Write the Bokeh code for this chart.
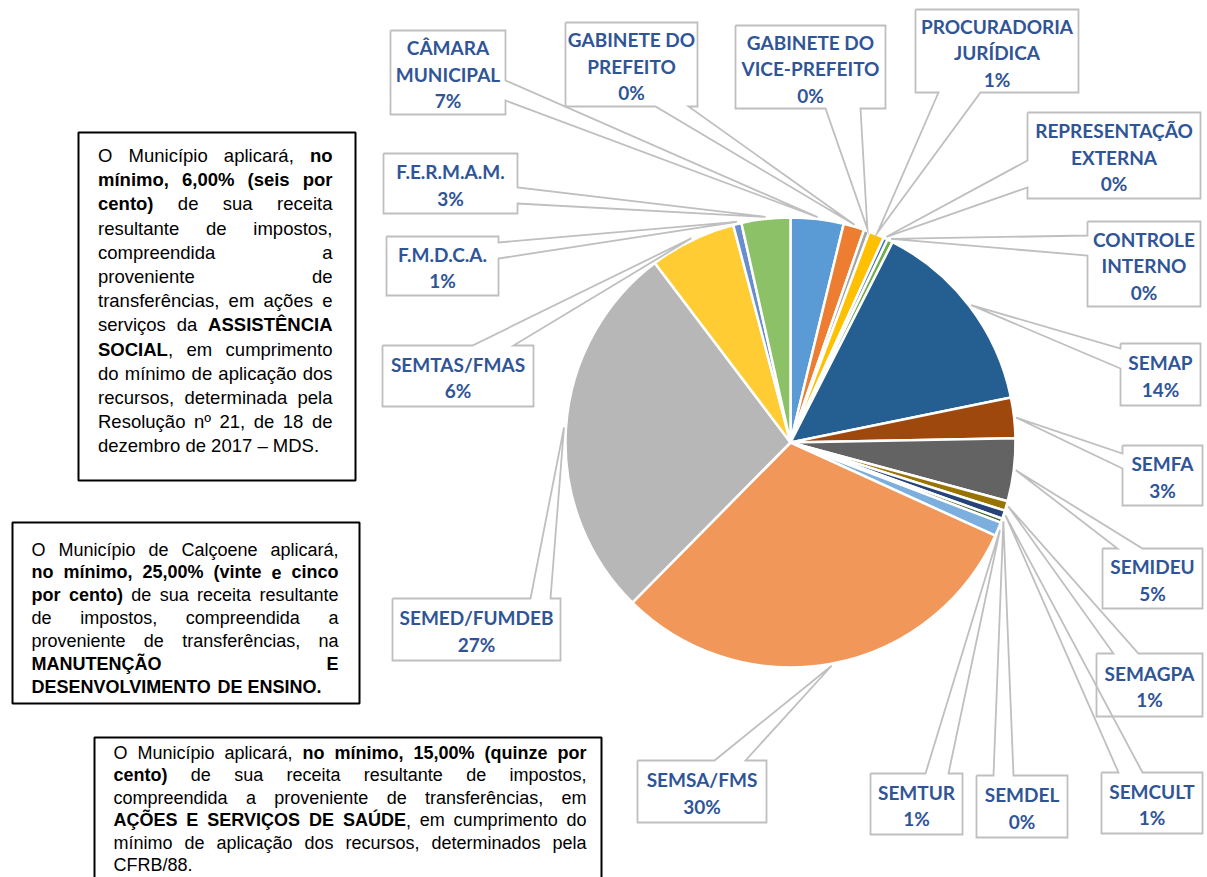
import math
import unicodedata
from bokeh.plotting import figure
from bokeh.models import Range1d, ColumnDataSource
from bokeh.embed import file_html
from bokeh.resources import INLINE
from bokeh.core.properties import value

# ---------------- data ----------------
categories = ["CÂMARA\nMUNICIPAL", "GABINETE DO\nPREFEITO", "GABINETE DO\nVICE-PREFEITO",
              "PROCURADORIA\nJURÍDICA", "REPRESENTAÇÃO\nEXTERNA", "CONTROLE\nINTERNO",
              "SEMAP", "SEMFA", "SEMIDEU", "SEMAGPA", "SEMCULT", "SEMDEL", "SEMTUR",
              "SEMSA/FMS", "SEMED/FUMDEB", "SEMTAS/FMAS", "F.M.D.C.A.", "F.E.R.M.A.M."]
shares = [3.8, 1.5, 0.4, 1.1, 0.3, 0.4, 14.3, 2.9, 4.5, 0.7, 0.6, 0.3, 1.0,
          30.6, 27.3, 6.2, 0.6, 3.5]
pct_labels = ["7%", "0%", "0%", "1%", "0%", "0%", "14%", "3%", "5%", "1%", "1%", "0%", "1%",
              "30%", "27%", "6%", "1%", "3%"]

box1_lines = [
    "O Município aplicará, **no**",
    "**mínimo, 6,00% (seis por**",
    "**cento)** de sua receita",
    "resultante de impostos,",
    "compreendida a",
    "proveniente de",
    "transferências, em ações e",
    "serviços da **ASSISTÊNCIA**",
    "**SOCIAL**, em cumprimento",
    "do mínimo de aplicação dos",
    "recursos, determinada pela",
    "Resolução nº 21, de 18 de",
    "dezembro de 2017 – MDS.",
]
box2_lines = [
    "O Município de Calçoene aplicará,",
    "**no mínimo, 25,00% (vinte e cinco**",
    "**por cento)** de sua receita resultante",
    "de impostos, compreendida a",
    "proveniente de transferências, na",
    "**MANUTENÇÃO E**",
    "**DESENVOLVIMENTO DE ENSINO.**",
]
box3_lines = [
    "O Município aplicará, **no mínimo, 15,00% (quinze por**",
    "**cento)** de sua receita resultante de impostos,",
    "compreendida a proveniente de transferências, em",
    "**AÇÕES E SERVIÇOS DE SAÚDE**, em cumprimento do",
    "mínimo de aplicação dos recursos, determinados pela",
    "CFRB/88.",
]

# ---------------- styles / layout ----------------
slice_colors = ["#5B9BD5", "#ED7D31", "#A5A5A5", "#FFC000", "#4472C4", "#70AD47",
                "#255E91", "#9E480E", "#636363", "#997300", "#264478", "#43682B",
                "#7CAFDD", "#F1975A", "#B7B7B7", "#FFCD33", "#698ED0", "#8CC168"]

# label callout boxes: x0, y0, x1, y1 (picture px), pointer side, pointer base a, b
label_boxes = [
    (390, 30, 505, 114, "R", 80, 100),
    (565, 22, 697, 106, "B", 655, 688),
    (735, 25, 885, 108, "B", 825, 860),
    (915, 9, 1078, 92, "B", 938, 980),
    (1027, 112, 1200, 198, "L", 160, 187),
    (1087, 221, 1200, 306, "L", 235, 255),
    (1120, 343, 1200, 405, "L", 348, 368),
    (1122, 445, 1202, 505, "L", 453, 468),
    (1102, 548, 1202, 608, "T", 1117, 1142),
    (1096, 653, 1202, 716, "T", 1113, 1138),
    (1101, 772, 1202, 833, "T", 1118, 1142),
    (976, 775, 1067, 837, "T", 993, 1013),
    (870, 773, 962, 834, "T", 925, 948),
    (637, 760, 766, 822, "T", 714, 745),
    (392, 598, 560, 660, "T", 530, 550),
    (382, 345, 533, 406, "T", 472, 513),
    (386, 236, 498, 295, "R", 242, 258),
    (383, 153, 517, 213, "R", 187, 203),
]

CX, CY, R = 790, 442, 225


def Y(ry):
    return -ry


p = figure(width=1207, height=877, x_range=Range1d(0, 1207), y_range=Range1d(-877, 0),
           output_backend="svg", toolbar_location=None, min_border=0,
           x_axis_location=None, y_axis_location=None)
p.grid.grid_line_color = None
p.outline_line_color = None
p.background_fill_color = "white"
p.border_fill_color = "white"

# ---------------- pie ----------------
total = sum(shares)
cum = [0.0]
for s in shares:
    cum.append(cum[-1] + s)
theta0 = [c / total * 2 * math.pi for c in cum[:-1]]
theta1 = [c / total * 2 * math.pi for c in cum[1:]]
pie_src = ColumnDataSource(dict(
    start=[math.pi / 2 - t for t in theta1],
    end=[math.pi / 2 - t for t in theta0],
    color=slice_colors,
))
p.wedge(x=CX, y=Y(CY), radius=R, start_angle="start", end_angle="end",
        fill_color="color", line_color="white", line_width=2.5, source=pie_src)

# ---------------- callouts ----------------
xs, ys = [], []
tx, ty, tt = [], [], []
for i, (x0, y0, x1, y1, side, a, b) in enumerate(label_boxes):
    mid = (theta0[i] + theta1[i]) / 2
    tipx = CX + (R + 2) * math.sin(mid)
    tipy = CY - (R + 2) * math.cos(mid)
    if side == "T":
        pts = [(x0, y0), (a, y0), (tipx, tipy), (b, y0), (x1, y0), (x1, y1), (x0, y1), (x0, y0)]
    elif side == "R":
        pts = [(x0, y0), (x1, y0), (x1, a), (tipx, tipy), (x1, b), (x1, y1), (x0, y1), (x0, y0)]
    elif side == "B":
        pts = [(x0, y0), (x1, y0), (x1, y1), (b, y1), (tipx, tipy), (a, y1), (x0, y1), (x0, y0)]
    else:
        pts = [(x0, y0), (x1, y0), (x1, y1), (x0, y1), (x0, b), (tipx, tipy), (x0, a), (x0, y0)]
    xs.append([q[0] for q in pts])
    ys.append([Y(q[1]) for q in pts])
    lines = categories[i].split("\n") + [pct_labels[i]]
    n = len(lines)
    step = 26.5
    cy = (y0 + y1) / 2 + 1.5
    for k, ln in enumerate(lines):
        tx.append((x0 + x1) / 2)
        ty.append(Y(cy + (k - (n - 1) / 2) * step))
        tt.append(ln)

p.multi_line(xs=xs, ys=ys, line_color="#BFBFBF", line_width=1.8, line_join="miter")
p.text(x=tx, y=ty, text=tt, text_font=value("Lato"), text_font_style="bold",
       text_font_size="19px", text_color="#2F5597", text_align="center",
       text_baseline="middle")

# ---------------- justified paragraph boxes ----------------
REG = {' ': 278, '%': 889, '(': 333, ')': 333, ',': 278, '-': 333, '.': 278, '/': 278,
       '–': 556, 'º': 365, 'í': 278,
       'A': 667, 'B': 667, 'C': 722, 'D': 722, 'E': 667, 'F': 611, 'G': 778, 'H': 722,
       'I': 278, 'J': 500, 'K': 667, 'L': 556, 'M': 833, 'N': 722, 'O': 778, 'P': 667,
       'Q': 778, 'R': 722, 'S': 667, 'T': 611, 'U': 722, 'V': 667, 'W': 944, 'X': 667,
       'Y': 667, 'Z': 611,
       'a': 556, 'b': 556, 'c': 500, 'd': 556, 'e': 556, 'f': 278, 'g': 556, 'h': 556,
       'i': 222, 'j': 222, 'k': 500, 'l': 222, 'm': 833, 'n': 556, 'o': 556, 'p': 556,
       'q': 556, 'r': 333, 's': 500, 't': 278, 'u': 556, 'v': 500, 'w': 722, 'x': 500,
       'y': 500, 'z': 500}
BOLD = {' ': 278, '%': 889, '(': 333, ')': 333, ',': 278, '-': 333, '.': 278, '/': 278,
        '–': 556, 'º': 365, 'í': 278,
        'A': 722, 'B': 722, 'C': 722, 'D': 722, 'E': 667, 'F': 611, 'G': 778, 'H': 722,
        'I': 278, 'J': 556, 'K': 722, 'L': 611, 'M': 833, 'N': 722, 'O': 778, 'P': 667,
        'Q': 778, 'R': 722, 'S': 667, 'T': 611, 'U': 722, 'V': 667, 'W': 944, 'X': 667,
        'Y': 667, 'Z': 611,
        'a': 556, 'b': 611, 'c': 556, 'd': 611, 'e': 556, 'f': 333, 'g': 611, 'h': 611,
        'i': 278, 'j': 278, 'k': 556, 'l': 278, 'm': 889, 'n': 611, 'o': 611, 'p': 611,
        'q': 611, 'r': 389, 's': 556, 't': 333, 'u': 611, 'v': 556, 'w': 778, 'x': 556,
        'y': 556, 'z': 500}
for d in "0123456789":
    REG[d] = 556
    BOLD[d] = 556


def text_width(s, bold, size):
    table = BOLD if bold else REG
    w = 0
    for ch in s:
        if ch in table:
            w += table[ch]
            continue
        for c in unicodedata.normalize("NFD", ch):
            if unicodedata.combining(c):
                continue
            w += table.get(c, 556)
    return w * size / 1000.0


def parse(line):
    parts = line.split("**")
    words = [[]]
    for k, part in enumerate(parts):
        bold = (k % 2 == 1)
        toks = part.split(" ")
        for j, tok in enumerate(toks):
            if j > 0:
                words.append([])
            if tok:
                words[-1].append((tok, bold))
    return [w for w in words if w]


def paragraph(lines, left, right, y_first, step, size):
    out = {False: dict(x=[], y=[], t=[]), True: dict(x=[], y=[], t=[])}
    for li, line in enumerate(lines):
        words = parse(line)
        widths = [sum(text_width(s, b, size) for s, b in w) for w in words]
        last = (li == len(lines) - 1)
        if last or len(words) == 1:
            gap = REG[' '] * size / 1000.0
        else:
            gap = (right - left - sum(widths)) / (len(words) - 1)
        x = left
        yy = Y(y_first + li * step)
        for w, ww in zip(words, widths):
            xx = x
            for s, b in w:
                out[b]["x"].append(xx)
                out[b]["y"].append(yy)
                out[b]["t"].append(s)
                xx += text_width(s, b, size)
            x += ww + gap
    for b in (False, True):
        p.text(x=out[b]["x"], y=out[b]["y"], text=out[b]["t"],
               text_font=value("Liberation Sans"),
               text_font_style="bold" if b else "normal",
               text_font_size=f"{size}px", text_color="black",
               text_align="left", text_baseline="middle")


# box frames
p.quad(left=[78, 12, 94], right=[355, 359, 601], top=[Y(132), Y(522), Y(737)],
       bottom=[Y(480), Y(703), Y(900)], fill_color=None, line_color="black", line_width=2)

paragraph(box1_lines, 97.5, 332, 155, 24.2, 18.5)
paragraph(box2_lines, 31, 338, 549, 22.9, 18)
paragraph(box3_lines, 113, 586, 752, 22.5, 18)

open("out.html", "w").write(file_html(p, INLINE))
